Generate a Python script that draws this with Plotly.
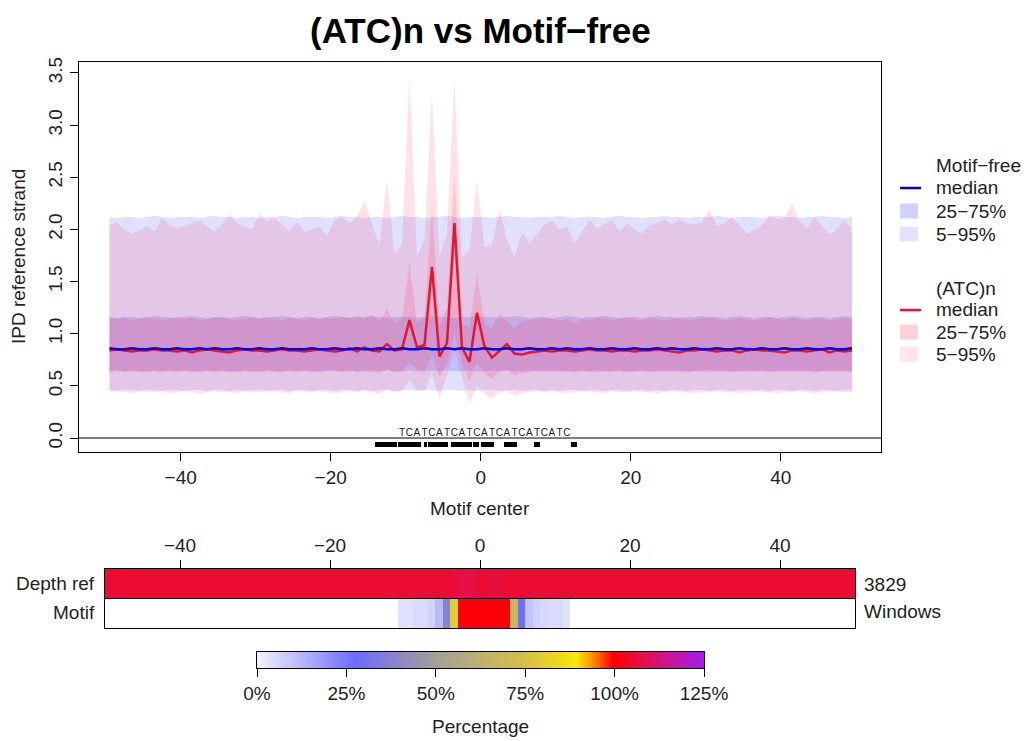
import plotly.graph_objects as go

W, H = 1027, 741
FONT = "Liberation Sans, Arial, sans-serif"

# ---------------- data ----------------
positions = [p + 0.5 for p in range(-50, 50)]  # window positions -49.5 .. 49.5

mf_median = [0.86,0.85,0.85,0.86,0.85,0.85,0.86,0.85,0.85,0.86,
             0.85,0.85,0.86,0.85,0.86,0.85,0.85,0.86,0.85,0.85,
             0.86,0.85,0.85,0.86,0.85,0.85,0.85,0.86,0.85,0.85,
             0.86,0.85,0.85,0.86,0.85,0.85,0.86,0.85,0.85,0.86,
             0.85,0.85,0.86,0.85,0.85,0.86,0.85,0.86,0.85,0.85,
             0.86,0.85,0.85,0.86,0.85,0.85,0.86,0.85,0.85,0.86,
             0.85,0.86,0.85,0.85,0.86,0.85,0.85,0.86,0.85,0.85,
             0.86,0.85,0.85,0.86,0.85,0.86,0.85,0.85,0.86,0.85,
             0.85,0.86,0.85,0.85,0.86,0.85,0.85,0.86,0.85,0.85,
             0.86,0.85,0.85,0.86,0.85,0.85,0.86,0.85,0.85,0.86]
mf_q25 = [0.64,0.65,0.64,0.65,0.64,0.64,0.65,0.64,0.65,0.64,
          0.65,0.64,0.64,0.65,0.64,0.65,0.64,0.64,0.65,0.64,
          0.64,0.65,0.64,0.64,0.65,0.64,0.65,0.64,0.64,0.65,
          0.65,0.64,0.65,0.64,0.64,0.65,0.64,0.65,0.64,0.64,
          0.65,0.64,0.64,0.65,0.64,0.65,0.64,0.64,0.65,0.64,
          0.64,0.65,0.64,0.65,0.64,0.64,0.65,0.64,0.65,0.64,
          0.65,0.64,0.64,0.65,0.64,0.65,0.64,0.64,0.65,0.64,
          0.64,0.65,0.64,0.64,0.65,0.64,0.65,0.64,0.64,0.65,
          0.65,0.64,0.65,0.64,0.64,0.65,0.64,0.65,0.64,0.64,
          0.64,0.65,0.64,0.65,0.64,0.64,0.65,0.64,0.65,0.64]
mf_q75 = [1.16,1.15,1.16,1.16,1.15,1.16,1.17,1.16,1.15,1.16,
          1.16,1.17,1.16,1.15,1.16,1.16,1.15,1.16,1.17,1.16,
          1.15,1.16,1.16,1.17,1.16,1.15,1.16,1.16,1.15,1.16,
          1.17,1.16,1.15,1.16,1.16,1.17,1.16,1.15,1.16,1.16,
          1.16,1.15,1.16,1.17,1.16,1.16,1.15,1.16,1.16,1.17,
          1.16,1.16,1.15,1.16,1.17,1.16,1.15,1.16,1.16,1.15,
          1.16,1.17,1.16,1.15,1.16,1.16,1.17,1.16,1.15,1.16,
          1.16,1.15,1.16,1.17,1.16,1.16,1.15,1.16,1.16,1.17,
          1.16,1.16,1.15,1.16,1.17,1.16,1.15,1.16,1.16,1.15,
          1.16,1.17,1.16,1.15,1.16,1.16,1.15,1.16,1.17,1.16]
mf_q05 = [0.46,0.45,0.46,0.46,0.45,0.46,0.46,0.45,0.46,0.46,
          0.45,0.46,0.46,0.45,0.46,0.46,0.45,0.46,0.45,0.46,
          0.46,0.45,0.46,0.46,0.45,0.46,0.46,0.45,0.46,0.46,
          0.45,0.46,0.46,0.45,0.46,0.45,0.46,0.46,0.45,0.46,
          0.46,0.45,0.46,0.46,0.45,0.46,0.46,0.45,0.46,0.45,
          0.46,0.46,0.45,0.46,0.46,0.45,0.46,0.46,0.45,0.46,
          0.45,0.46,0.46,0.45,0.46,0.46,0.45,0.46,0.46,0.45,
          0.46,0.46,0.45,0.46,0.45,0.46,0.46,0.45,0.46,0.46,
          0.45,0.46,0.46,0.45,0.46,0.46,0.45,0.46,0.45,0.46,
          0.46,0.45,0.46,0.46,0.45,0.46,0.46,0.45,0.46,0.46]
mf_q95 = [2.12,2.11,2.12,2.12,2.11,2.12,2.13,2.12,2.11,2.12,
          2.12,2.12,2.11,2.12,2.13,2.12,2.12,2.11,2.12,2.12,
          2.11,2.12,2.12,2.13,2.12,2.11,2.12,2.12,2.12,2.11,
          2.12,2.13,2.12,2.12,2.11,2.12,2.12,2.11,2.12,2.13,
          2.12,2.12,2.11,2.12,2.12,2.13,2.12,2.11,2.12,2.12,
          2.12,2.11,2.12,2.13,2.12,2.12,2.11,2.12,2.12,2.12,
          2.13,2.12,2.11,2.12,2.12,2.12,2.11,2.12,2.13,2.12,
          2.12,2.11,2.12,2.12,2.13,2.12,2.12,2.11,2.12,2.12,
          2.12,2.13,2.12,2.11,2.12,2.12,2.12,2.11,2.12,2.13,
          2.12,2.12,2.11,2.12,2.12,2.13,2.12,2.12,2.11,2.12]

atc_median = [0.84,0.85,0.84,0.83,0.84,0.84,0.85,0.84,0.84,0.83,
              0.84,0.82,0.84,0.85,0.84,0.83,0.82,0.84,0.85,0.84,
              0.84,0.83,0.84,0.85,0.84,0.84,0.83,0.84,0.85,0.84,
              0.83,0.84,0.86,0.83,0.87,0.84,0.83,0.90,0.84,0.85,
              1.13,0.87,0.89,1.64,0.78,0.91,2.06,0.87,0.73,1.20,
              0.88,0.77,0.84,0.90,0.81,0.80,0.82,0.83,0.84,0.83,
              0.84,0.84,0.83,0.84,0.85,0.84,0.84,0.83,0.84,0.84,
              0.83,0.84,0.84,0.85,0.84,0.83,0.82,0.84,0.84,0.85,
              0.84,0.83,0.84,0.84,0.82,0.84,0.85,0.84,0.84,0.83,
              0.82,0.84,0.84,0.83,0.84,0.85,0.82,0.84,0.83,0.84]
atc_q05 = [0.44,0.45,0.44,0.43,0.45,0.44,0.44,0.45,0.43,0.44,
           0.45,0.44,0.43,0.44,0.45,0.44,0.44,0.43,0.45,0.44,
           0.44,0.45,0.44,0.44,0.43,0.45,0.44,0.44,0.45,0.44,
           0.43,0.44,0.45,0.44,0.46,0.44,0.42,0.47,0.44,0.45,
           0.55,0.46,0.45,0.62,0.38,0.60,0.85,0.60,0.33,0.50,
           0.42,0.38,0.44,0.45,0.40,0.43,0.44,0.45,0.44,0.45,
           0.44,0.43,0.44,0.45,0.44,0.44,0.43,0.45,0.44,0.44,
           0.45,0.44,0.44,0.43,0.44,0.45,0.44,0.44,0.43,0.44,
           0.44,0.45,0.44,0.44,0.43,0.44,0.45,0.44,0.44,0.43,
           0.44,0.44,0.45,0.44,0.43,0.44,0.44,0.45,0.44,0.44]
atc_q25 = [0.63,0.64,0.63,0.64,0.63,0.63,0.64,0.63,0.64,0.63,
           0.64,0.63,0.63,0.64,0.63,0.64,0.63,0.63,0.64,0.63,
           0.63,0.64,0.63,0.63,0.64,0.63,0.64,0.63,0.63,0.64,
           0.64,0.63,0.64,0.63,0.65,0.63,0.62,0.66,0.63,0.64,
           0.72,0.66,0.64,0.80,0.58,0.72,1.00,0.72,0.55,0.72,
           0.62,0.57,0.64,0.65,0.60,0.62,0.63,0.64,0.63,0.64,
           0.63,0.64,0.63,0.64,0.63,0.63,0.64,0.63,0.64,0.63,
           0.64,0.63,0.63,0.64,0.63,0.64,0.63,0.63,0.64,0.63,
           0.63,0.64,0.63,0.63,0.64,0.63,0.64,0.63,0.63,0.64,
           0.64,0.63,0.64,0.63,0.63,0.64,0.63,0.64,0.63,0.63]
atc_q75 = [1.15,1.14,1.15,1.13,1.14,1.15,1.14,1.13,1.15,1.14,
           1.14,1.15,1.13,1.14,1.15,1.16,1.14,1.13,1.14,1.15,
           1.14,1.15,1.14,1.13,1.15,1.14,1.13,1.15,1.14,1.15,
           1.14,1.16,1.15,1.17,1.14,1.18,1.12,1.24,1.10,1.15,
           1.69,1.10,1.16,2.22,1.08,1.25,2.54,1.10,1.05,1.58,
           1.10,1.05,1.20,1.12,1.06,1.12,1.13,1.14,1.15,1.14,
           1.13,1.14,1.10,1.14,1.13,1.15,1.14,1.13,1.14,1.15,
           1.14,1.13,1.15,1.14,1.13,1.14,1.15,1.13,1.14,1.14,
           1.15,1.14,1.13,1.14,1.15,1.14,1.13,1.14,1.16,1.14,
           1.13,1.15,1.14,1.13,1.15,1.14,1.13,1.14,1.15,1.13]
atc_q95 = [2.04,2.07,2.00,1.96,1.99,2.03,1.98,2.11,2.04,2.01,
           2.03,2.06,2.09,2.03,1.98,2.05,2.15,2.06,2.03,2.00,
           2.15,2.08,2.11,2.04,1.98,2.07,1.98,2.00,2.03,1.94,
           2.09,2.12,2.06,2.12,2.28,2.05,1.85,2.48,1.77,1.85,
           3.46,1.74,1.90,3.30,1.74,1.95,3.42,1.74,1.80,2.46,
           1.83,1.85,2.19,1.90,1.74,1.97,1.87,1.95,2.05,2.09,
           2.00,2.03,1.87,1.98,2.09,2.01,2.05,2.09,1.98,2.06,
           2.00,1.96,2.04,2.06,2.09,2.05,2.09,2.06,2.05,2.07,
           2.19,2.03,2.06,2.12,2.04,1.96,2.00,2.04,2.13,2.10,
           2.11,2.25,2.08,2.01,2.12,2.03,1.95,2.00,2.09,2.01]

# motif sequence drawn above the axis, one letter per position
motif_seq = "TCATCATCATCATCATCATCATC"
motif_first_pos = -10.5
# black marks under the motif (start, end)
mark_start = [-14.1, -11.0, -7.6, -7.0, -4.0, -1.0, 0.0, 3.1, 7.1, 12.0]
mark_end   = [-11.2, -7.9, -7.2, -4.3, -1.2, -0.2, 1.8, 4.9, 7.9, 12.8]

# heat strip (percent)
depth_pct = [105,105,105,105,105,105,105,105,105,105,
             105,105,105,105,105,105,105,105,105,105,
             105,105,105,105,105,105,105,105,105,105,
             105,105,105,105,105,105,105,105,105,105,
             105,105,105,105,105,105,106,107,107,106,
             105,106,106,105,105,105,105,105,105,105,
             105,105,105,105,105,105,105,105,105,105,
             105,105,105,105,105,105,105,105,105,105,
             105,105,105,105,105,105,105,105,105,105,
             105,105,105,105,105,105,105,105,105,105]
N = None
motif_pct = [N]*39 + [4,4,5,5,7,12,38,80,100,100,100,100,100,100,100,68,27,10,7,6,5,5,4] + [N]*38

depth_total = "3829"
x_ticks = [-40, -20, 0, 20, 40]
y_ticks = [0, 0.5, 1, 1.5, 2, 2.5, 3, 3.5]
pct_ticks = [0, 25, 50, 75, 100, 125]
gradient = [i * 0.5 for i in range(251)]

# ---------------- styles ----------------
C_BLUE5 = "rgba(0,0,255,0.12)"
C_BLUE25 = "rgba(0,0,255,0.14)"
C_RED5 = "rgba(255,30,60,0.13)"
C_RED25 = "rgba(255,30,60,0.15)"

colorscale = [
    [0.0, "#f3f3ff"], [0.22, "#6c6cfc"], [0.40, "#a5a096"], [0.60, "#d6c046"],
    [0.715, "#f8e800"], [0.75, "#ff9000"], [0.795, "#ff0000"], [0.86, "#e5104a"],
    [1.0, "#a01ef0"],
]

def fx(p):
    return p / W

def fy(p):
    return 1 - p / H

fig = go.Figure()

def band(lo, hi, color):
    fig.add_trace(go.Scatter(
        x=positions + positions[::-1], y=hi + lo[::-1], fill="toself",
        fillcolor=color, mode="lines", line=dict(width=0), hoverinfo="skip",
        showlegend=False, xaxis="x", yaxis="y"))

band(mf_q05, mf_q95, C_BLUE5)
band(mf_q25, mf_q75, C_BLUE25)
band(atc_q05, atc_q95, C_RED5)
band(atc_q25, atc_q75, C_RED25)

fig.add_trace(go.Scatter(x=positions, y=atc_median, mode="lines",
                         line=dict(color="#e3162f", width=2.5), showlegend=False,
                         xaxis="x", yaxis="y"))
fig.add_trace(go.Scatter(x=positions, y=mf_median, mode="lines",
                         line=dict(color="#0000d8", width=2.5), showlegend=False,
                         xaxis="x", yaxis="y"))

# motif marks
mids = [(a + b) / 2 for a, b in zip(mark_start, mark_end)]
wids = [b - a for a, b in zip(mark_start, mark_end)]
fig.add_trace(go.Bar(x=mids, y=[0.048] * len(mids), base=[-0.083] * len(mids),
                     width=wids, marker=dict(color="black", line=dict(width=0)),
                     showlegend=False, xaxis="x", yaxis="y"))
fig.add_trace(go.Scatter(x=[motif_first_pos + i for i in range(len(motif_seq))],
                         y=[0.047] * len(motif_seq), mode="text",
                         text=list(motif_seq), textposition="middle center",
                         textfont=dict(family=FONT, size=10, color="#1a1a1a"),
                         showlegend=False, xaxis="x", yaxis="y"))

# heat strip
fig.add_trace(go.Heatmap(x=positions, y=[0, 1], z=[motif_pct, depth_pct],
                         zmin=0, zmax=125, colorscale=colorscale, showscale=False,
                         xaxis="x2", yaxis="y2", hoverongaps=False))
# colour key
fig.add_trace(go.Heatmap(x=gradient, y=[0], z=[gradient], zmin=0, zmax=125,
                         colorscale=colorscale, showscale=False,
                         xaxis="x3", yaxis="y3"))

axis_common = dict(showline=True, mirror=True, linecolor="black", linewidth=1,
                   showgrid=False, zeroline=False, ticks="outside", ticklen=8,
                   automargin=False,
                   tickcolor="black", tickfont=dict(family=FONT, size=19, color="#222"))
plain_axis = dict(showline=True, mirror=True, linecolor="black", linewidth=1,
                  showticklabels=False, ticks="", showgrid=False, zeroline=False,
                  automargin=False)

fig.update_layout(
    width=W, height=H, margin=dict(l=0, r=0, t=0, b=0, autoexpand=False),
    paper_bgcolor="white", plot_bgcolor="rgba(0,0,0,0)",
    showlegend=False, bargap=0,
    font=dict(family=FONT, color="#222"),
    xaxis=dict(domain=[fx(79), fx(881)], range=[-53.56, 53.37], anchor="y",
               tickvals=x_ticks, **axis_common),
    yaxis=dict(domain=[fy(452), fy(62)], range=[-0.134, 3.605], anchor="x",
               tickvals=y_ticks, ticktext=[f"{v:.1f}" for v in y_ticks],
               tickangle=-90, **axis_common),
    xaxis2=dict(domain=[fx(105), fx(855)], range=[-50, 50], anchor="y2",
                side="top", tickvals=x_ticks, **axis_common),
    yaxis2=dict(domain=[fy(628), fy(569)], range=[-0.5, 1.5], anchor="x2", **plain_axis),
    xaxis3=dict(domain=[fx(257), fx(704)], range=[0, 125], anchor="y3",
                tickvals=pct_ticks, ticktext=[f"{v}%" for v in pct_ticks],
                **axis_common),
    yaxis3=dict(domain=[fy(668), fy(652)], range=[-0.5, 0.5], anchor="x3", **plain_axis),
)

shapes = [
    dict(type="line", xref="x domain", yref="y", x0=0, x1=1, y0=0, y1=0,
         line=dict(color="black", width=1)),
    dict(type="line", xref="x2 domain", yref="y2", x0=0, x1=1, y0=0.5, y1=0.5,
         line=dict(color="black", width=1)),
]

ann = []
def text(x, y, s, size=19, xanchor="center", bold=False, angle=0):
    ann.append(dict(x=fx(x), y=fy(y), xref="paper", yref="paper", text=s,
                    showarrow=False, xanchor=xanchor, yanchor="middle",
                    textangle=angle,
                    font=dict(family=FONT, size=size, color="black" if bold else "#222")))

text(480, 31, "<b>(ATC)n vs Motif\u2212free</b>", size=35, bold=True)
text(18, 257, "IPD reference strand", angle=-90)
text(480, 508, "Motif center")
text(97, 583, "Depth ref", xanchor="right")
text(97, 612, "Motif", xanchor="right")
text(862, 584, depth_total, xanchor="left")
text(862, 611, "Windows", xanchor="left")
text(480, 726, "Percentage")

# legend
leg_x_text = 934
groups = [
    ("Motif\u2212free", "#0000d8", "rgba(0,0,255,0.18)", "rgba(0,0,255,0.11)", [165, 188, 211, 234]),
    ("(ATC)n", "#e3162f", "rgba(255,30,60,0.20)", "rgba(255,30,60,0.11)", [288, 310, 332, 354]),
]
for name, lc, c25, c5, ys in groups:
    text(leg_x_text, ys[0], name, xanchor="left")
    text(leg_x_text, ys[1], "median", xanchor="left")
    text(leg_x_text, ys[2], "25\u221275%", xanchor="left")
    text(leg_x_text, ys[3], "5\u221295%", xanchor="left")
    shapes.append(dict(type="line", xref="paper", yref="paper", x0=fx(900), x1=fx(921),
                       y0=fy(ys[1]), y1=fy(ys[1]), line=dict(color=lc, width=2.5)))
    for yy, cc in ((ys[2], c25), (ys[3], c5)):
        shapes.append(dict(type="rect", xref="paper", yref="paper", x0=fx(900), x1=fx(918),
                           y0=fy(yy + 7.5), y1=fy(yy - 7.5), fillcolor=cc,
                           line=dict(width=0)))

fig.update_layout(shapes=shapes, annotations=ann)
fig.write_html("out.html")
